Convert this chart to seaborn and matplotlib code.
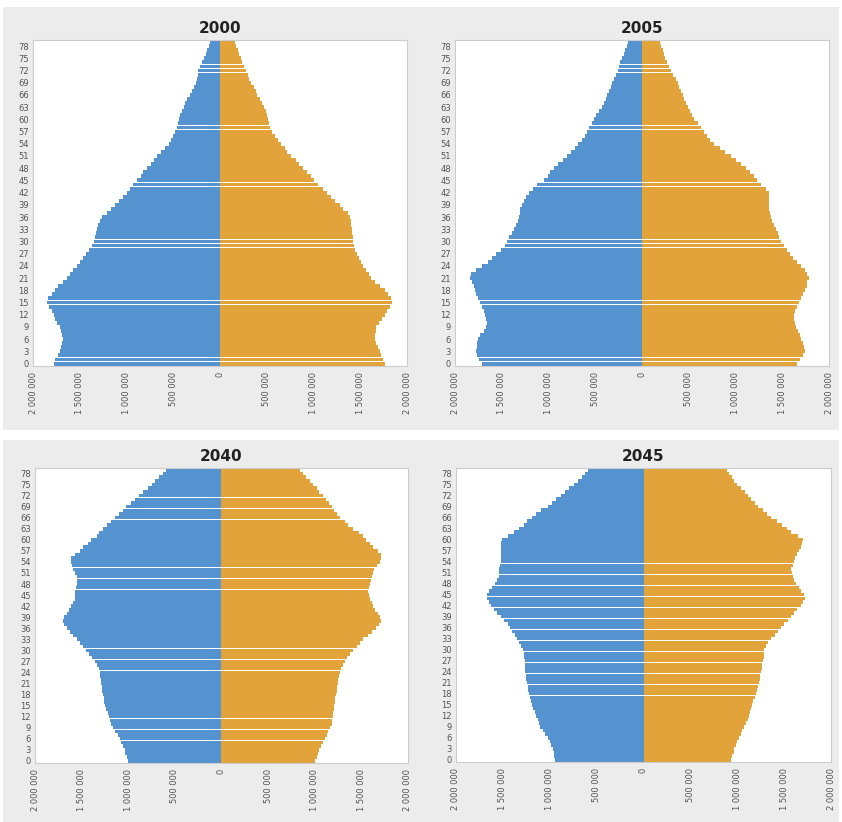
import matplotlib
matplotlib.use("Agg")
import matplotlib.pyplot as plt
from matplotlib.patches import Rectangle
from matplotlib.ticker import FuncFormatter
import pandas as pd
import seaborn as sns

# population by single year of age (0..79), in thousands
AGES = list(range(80))
YEARS = ["2000", "2005", "2040", "2045"]

MALE_2000 = [
    1780, 1760, 1730, 1710, 1700, 1690, 1680, 1690, 1700, 1710,
    1740, 1770, 1780, 1800, 1830, 1850, 1840, 1800, 1770, 1730,
    1680, 1640, 1600, 1570, 1530, 1500, 1470, 1430, 1400, 1370,
    1350, 1340, 1330, 1320, 1300, 1280, 1260, 1210, 1170, 1120,
    1080, 1040, 1000, 960, 930, 890, 850, 820, 780, 740,
    710, 670, 630, 590, 550, 520, 500, 480, 460, 450,
    440, 430, 410, 390, 370, 350, 320, 300, 280, 260,
    250, 240, 230, 210, 190, 170, 150, 140, 120, 110,
]
FEMALE_2000 = [
    1760, 1740, 1720, 1710, 1690, 1670, 1660, 1660, 1670, 1670,
    1700, 1730, 1760, 1790, 1820, 1840, 1830, 1800, 1760, 1710,
    1660, 1620, 1590, 1560, 1530, 1510, 1490, 1460, 1440, 1430,
    1420, 1420, 1410, 1410, 1400, 1400, 1390, 1370, 1320, 1280,
    1230, 1190, 1140, 1100, 1050, 1010, 970, 930, 890, 850,
    810, 760, 720, 690, 650, 620, 590, 560, 540, 520,
    510, 500, 490, 470, 450, 430, 400, 380, 360, 330,
    310, 300, 280, 260, 240, 220, 200, 190, 170, 160,
]
MALE_2005 = [
    1710, 1740, 1760, 1780, 1770, 1760, 1750, 1730, 1690, 1670,
    1660, 1670, 1680, 1690, 1710, 1730, 1750, 1780, 1790, 1800,
    1820, 1840, 1830, 1780, 1710, 1650, 1600, 1560, 1510, 1470,
    1440, 1420, 1390, 1370, 1350, 1330, 1320, 1310, 1300, 1280,
    1260, 1240, 1210, 1170, 1120, 1050, 1010, 980, 940, 900,
    850, 800, 760, 720, 680, 640, 610, 590, 570, 540,
    510, 490, 460, 430, 410, 390, 370, 350, 330, 320,
    300, 280, 260, 250, 230, 210, 190, 180, 160, 150,
]
FEMALE_2005 = [
    1660, 1690, 1720, 1740, 1730, 1720, 1700, 1690, 1670, 1650,
    1640, 1630, 1630, 1640, 1660, 1680, 1700, 1720, 1740, 1760,
    1770, 1790, 1770, 1740, 1700, 1660, 1620, 1580, 1550, 1520,
    1490, 1470, 1450, 1430, 1410, 1390, 1380, 1370, 1360, 1360,
    1360, 1360, 1360, 1330, 1270, 1230, 1200, 1160, 1110, 1060,
    1010, 950, 890, 830, 770, 730, 700, 660, 630, 600,
    560, 540, 510, 490, 470, 450, 440, 420, 400, 380,
    360, 330, 310, 290, 270, 250, 230, 220, 200, 190,
]
MALE_2040 = [
    1000, 1010, 1030, 1040, 1060, 1080, 1090, 1110, 1140, 1160,
    1180, 1200, 1210, 1220, 1240, 1250, 1260, 1260, 1270, 1280,
    1280, 1290, 1290, 1300, 1300, 1310, 1330, 1360, 1390, 1420,
    1450, 1490, 1520, 1550, 1590, 1620, 1660, 1690, 1700, 1690,
    1660, 1640, 1610, 1590, 1570, 1570, 1570, 1560, 1550, 1550,
    1550, 1570, 1590, 1600, 1610, 1610, 1570, 1520, 1490, 1430,
    1400, 1340, 1310, 1270, 1230, 1190, 1140, 1100, 1060, 1020,
    970, 930, 880, 840, 790, 750, 710, 670, 630, 600,
]
FEMALE_2040 = [
    1000, 1020, 1030, 1050, 1070, 1090, 1110, 1130, 1140, 1160,
    1180, 1190, 1200, 1200, 1210, 1210, 1220, 1220, 1230, 1240,
    1240, 1250, 1250, 1260, 1270, 1280, 1300, 1320, 1350, 1380,
    1410, 1450, 1480, 1520, 1570, 1610, 1660, 1690, 1710, 1700,
    1680, 1650, 1630, 1610, 1590, 1580, 1570, 1580, 1590, 1600,
    1610, 1620, 1640, 1670, 1700, 1710, 1710, 1680, 1630, 1590,
    1550, 1520, 1470, 1410, 1360, 1320, 1270, 1240, 1210, 1180,
    1150, 1120, 1090, 1050, 1020, 980, 950, 910, 870, 840,
]
MALE_2045 = [
    940, 950, 960, 970, 990, 1000, 1020, 1050, 1070, 1100,
    1120, 1130, 1150, 1160, 1180, 1190, 1200, 1210, 1220, 1230,
    1230, 1240, 1250, 1250, 1260, 1260, 1260, 1260, 1270, 1280,
    1290, 1310, 1330, 1350, 1370, 1400, 1420, 1450, 1490, 1520,
    1560, 1600, 1630, 1650, 1670, 1670, 1650, 1620, 1580, 1560,
    1540, 1540, 1540, 1530, 1520, 1520, 1520, 1520, 1520, 1520,
    1510, 1450, 1380, 1330, 1280, 1240, 1190, 1150, 1090, 1020,
    980, 930, 880, 840, 790, 740, 700, 660, 620, 590,
]
FEMALE_2045 = [
    930, 940, 960, 970, 990, 1000, 1020, 1040, 1050, 1070,
    1090, 1110, 1130, 1140, 1150, 1160, 1170, 1190, 1200, 1210,
    1220, 1230, 1240, 1240, 1250, 1260, 1260, 1270, 1280, 1280,
    1290, 1310, 1330, 1360, 1400, 1430, 1470, 1500, 1540, 1570,
    1610, 1640, 1680, 1700, 1720, 1710, 1680, 1660, 1630, 1610,
    1590, 1580, 1570, 1590, 1610, 1620, 1640, 1660, 1680, 1690,
    1700, 1650, 1570, 1530, 1480, 1420, 1360, 1320, 1270, 1220,
    1190, 1150, 1110, 1080, 1040, 1000, 970, 940, 910, 890,
]

MALES = {"2000": MALE_2000, "2005": MALE_2005, "2040": MALE_2040, "2045": MALE_2045}
FEMALES = {"2000": FEMALE_2000, "2005": FEMALE_2005, "2040": FEMALE_2040, "2045": FEMALE_2045}

X_TICKS = [-2000000, -1500000, -1000000, -500000, 0, 500000, 1000000, 1500000, 2000000]
Y_TICKS = list(range(0, 79, 3))

PALETTE = {"male": "#5592d0", "female": "#e3a33b"}


def build_frame() -> pd.DataFrame:
    rows = []
    for year in YEARS:
        for age, m, f in zip(AGES, MALES[year], FEMALES[year]):
            rows.append({"year": year, "age": age, "sex": "male", "value": -m * 1000})
            rows.append({"year": year, "age": age, "sex": "female", "value": f * 1000})
    return pd.DataFrame(rows)


def fmt_pop(v, _pos):
    return f"{abs(int(round(v))):,}".replace(",", " ")


def draw_pyramid(ax, data: pd.DataFrame, year: str) -> None:
    sns.barplot(
        data=data, x="value", y="age", hue="sex", palette=PALETTE,
        orient="h", native_scale=True, dodge=False, width=0.96,
        saturation=1, linewidth=0, legend=False, errorbar=None, ax=ax,
    )
    ax.set_facecolor("white")
    ax.set_xlim(-2000000, 2000000)
    ax.set_ylim(-0.6, 79.5)
    ax.set_xticks(X_TICKS)
    ax.set_yticks(Y_TICKS)
    ax.xaxis.set_major_formatter(FuncFormatter(fmt_pop))
    ax.tick_params(axis="x", labelsize=6, rotation=90, length=2, color="#cccccc", labelcolor="#555555", pad=2)
    ax.tick_params(axis="y", labelsize=6, length=2, color="#cccccc", labelcolor="#555555", pad=1)
    ax.set_xlabel("")
    ax.set_ylabel("")
    ax.grid(False)
    for spine in ax.spines.values():
        spine.set_color("#cccccc")
        spine.set_linewidth(0.8)
    ax.set_title(year, fontsize=11, fontweight="bold", color="#222222", pad=5)


def main() -> None:
    sns.set_theme(style="white")
    plt.rcParams["font.family"] = ["DejaVu Sans"]

    df = build_frame()
    fig = plt.figure(figsize=(8.42, 8.22), dpi=100, facecolor="white")
    H = 822.0
    W = 842.0

    # grey panel bands behind each row
    fig.add_artist(Rectangle((3 / W, 1 - 430 / H), 836 / W, 423 / H, transform=fig.transFigure,
                             facecolor="#ececec", edgecolor="none", zorder=-10))
    fig.add_artist(Rectangle((3 / W, 0), 836 / W, 1 - 440 / H, transform=fig.transFigure,
                             facecolor="#ececec", edgecolor="none", zorder=-10))

    boxes = {
        "2000": (33, 40, 407, 366),
        "2005": (455, 40, 829, 366),
        "2040": (35, 468, 408, 763),
        "2045": (456, 468, 831, 762),
    }
    for year in YEARS:
        x0, y0, x1, y1 = boxes[year]
        ax = fig.add_axes([x0 / W, 1 - y1 / H, (x1 - x0) / W, (y1 - y0) / H])
        draw_pyramid(ax, df[df["year"] == year], year)

    fig.savefig("out.png", dpi=100)
    plt.close(fig)


if __name__ == "__main__":
    main()
